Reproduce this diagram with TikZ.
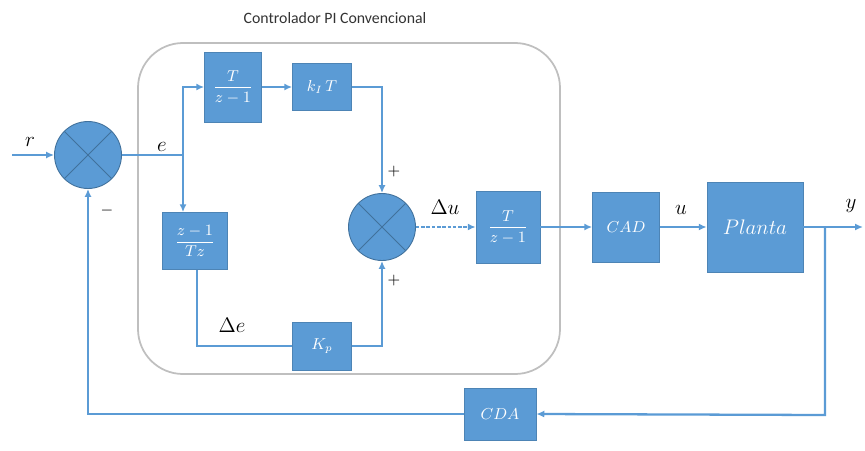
\documentclass[tikz,border=0pt]{standalone}
\usepackage{amsmath}
\usepackage{fontspec}
\newfontfamily\titlefont{Carlito}
\usetikzlibrary{arrows.meta,calc}
\definecolor{bblue}{HTML}{5B9BD5}
\definecolor{dblue}{HTML}{41719C}
\definecolor{lblue}{HTML}{5B9BD5}
\definecolor{frame}{HTML}{BFBFBF}
\tikzset{
  blockbox/.style={draw=bblue!85!black, line width=0.4pt, fill=bblue, text=white, inner sep=0pt, font=\small},
  sumnode/.style={circle, draw=dblue, line width=0.5pt, fill=bblue, minimum size=1.34cm, inner sep=0pt},
  wire/.style={draw=lblue, line width=1.3pt},
  arr/.style={wire, -{Latex[length=4.5pt,width=4pt]}},
  lbl/.style={font=\large},
  sgn/.style={font=\small}
}
\begin{document}
\begin{tikzpicture}[x=0.02cm,y=-0.02cm]
\useasboundingbox (0,0) rectangle (865,450);
% controller frame
\draw[frame, line width=1pt, rounded corners=0.9cm] (138,43) rectangle (560,374);
\node[font=\titlefont\small, text=black!80] (title) at (335,18) {Controlador PI Convencional};
% blocks
\node[sumnode] (s1) at (88,155) {};
\draw[dblue, line width=0.5pt] (s1.north west) -- (s1.south east) (s1.north east) -- (s1.south west);
\node[sumnode] (s2) at (382,227) {};
\draw[dblue, line width=0.5pt] (s2.north west) -- (s2.south east) (s2.north east) -- (s2.south west);
\node[blockbox, minimum width=1.14cm, minimum height=1.4cm] (A) at (233,87) {$\dfrac{T}{z-1}$};
\node[blockbox, minimum width=1.18cm, minimum height=0.94cm] (B) at (322,87) {$k_I\,T$};
\node[blockbox, minimum width=1.3cm, minimum height=1.14cm] (C) at (195,241) {$\dfrac{z-1}{Tz}$};
\node[blockbox, minimum width=1.18cm, minimum height=0.96cm] (Kp) at (322,346) {$K_p$};
\node[blockbox, minimum width=1.28cm, minimum height=1.44cm] (D) at (508,227) {$\dfrac{T}{z-1}$};
\node[blockbox, minimum width=1.34cm, minimum height=1.4cm] (CAD) at (626,227) {$CAD$};
\node[blockbox, minimum width=1.92cm, minimum height=1.8cm, font=\large] (P) at (755,227) {$Planta$};
\node[blockbox, minimum width=1.44cm, minimum height=1.04cm] (CDA) at (500,414) {$CDA$};
% coordinates
\coordinate (rin) at (12,155);
\coordinate (j1) at (183,155);
\coordinate (j2) at (825,227);
\coordinate (yout) at (863,227);
\coordinate (fb) at (825,415);
\coordinate (cb) at (197,346);
% wires
\draw[arr] (rin) -- (s1.west);
\draw[wire] (s1.east) -- (j1);
\draw[arr] (j1) |- (A.west);
\draw[arr] (j1) -- (j1 |- C.north);
\draw[arr] (A.east) -- (B.west);
\draw[arr] (B.east) -| (s2.north);
\draw[wire] (C.south -| cb) -- (cb) -- (Kp.west);
\draw[arr] (Kp.east) -| (s2.south);
\draw[arr, dashed, dash pattern=on 2pt off 1pt] (s2.east) -- (D.west);
\draw[arr] (D.east) -- (CAD.west);
\draw[arr] (CAD.east) -- (P.west);
\draw[arr] (P.east) -- (yout);
\draw[arr] (j2) -- (fb) -- (CDA.east);
\draw[arr] (CDA.west) -| (s1.south);
% labels
\node[lbl] (lr) at (30,142) {$r$};
\node[lbl] (le) at (162,147) {$e$};
\node[sgn] (lm) at (107,211) {$-$};
\node[sgn] (lp1) at (394,172) {$+$};
\node[sgn] (lp2) at (394,281) {$+$};
\node[lbl] (lde) at (232,325) {$\Delta e$};
\node[lbl] (ldu) at (445,207) {$\Delta u$};
\node[lbl] (lu) at (681,210) {$u$};
\node[lbl] (ly) at (851,206) {$y$};
\end{tikzpicture}
\end{document}
